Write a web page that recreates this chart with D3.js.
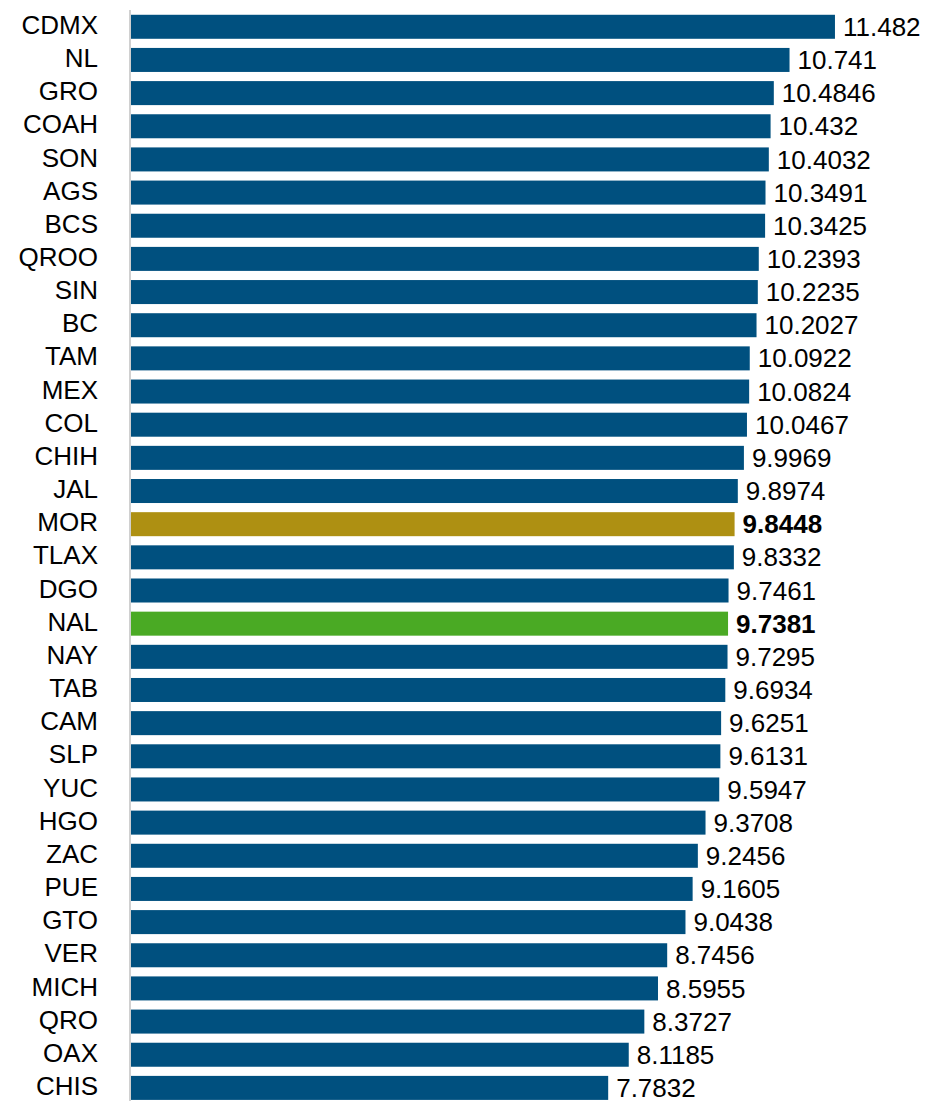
<!DOCTYPE html>
<html><head><meta charset="utf-8">
<script src="https://cdn.jsdelivr.net/npm/d3@7"></script>
<style>body{margin:0;background:#fff}svg{display:block}text{font-family:"Liberation Sans",Arial,sans-serif}</style>
</head><body>
<svg id="c" width="925" height="1101"></svg>
<script>
const categories = ["CDMX","NL","GRO","COAH","SON","AGS","BCS","QROO","SIN","BC","TAM","MEX","COL","CHIH","JAL","MOR","TLAX","DGO","NAL","NAY","TAB","CAM","SLP","YUC","HGO","ZAC","PUE","GTO","VER","MICH","QRO","OAX","CHIS"];
const values = [11.482,10.741,10.4846,10.432,10.4032,10.3491,10.3425,10.2393,10.2235,10.2027,10.0922,10.0824,10.0467,9.9969,9.8974,9.8448,9.8332,9.7461,9.7381,9.7295,9.6934,9.6251,9.6131,9.5947,9.3708,9.2456,9.1605,9.0438,8.7456,8.5955,8.3727,8.1185,7.7832];
const highlight = {"MOR":"#AE9012","NAL":"#4AAA24"};
const baseColor = "#00507F";

const data = categories.map((c,i)=>({cat:c, v:values[i]}));
const svg = d3.select("#c");
const x = d3.scaleLinear().domain([0,12]).range([131, 131+12*61.31]);
const y = d3.scaleBand().domain(categories).range([10.2, 10.2+33.16*33]).paddingInner(0.276).paddingOuter(0.138);

svg.append("line").attr("x1",130).attr("x2",130).attr("y1",10).attr("y2",1101)
  .attr("stroke","#d0d0d0").attr("stroke-width",2);

svg.selectAll("rect.bar").data(data).join("rect")
  .attr("x",x(0)).attr("y",d=>y(d.cat)).attr("width",d=>x(d.v)-x(0)).attr("height",y.bandwidth())
  .attr("fill",d=>highlight[d.cat]||baseColor);

svg.selectAll("text.cat").data(data).join("text")
  .attr("x",98).attr("y",d=>y(d.cat)+y.bandwidth()/2-2).attr("dy","0.35em")
  .attr("text-anchor","end").attr("font-size",26).attr("fill","#000").text(d=>d.cat);

svg.selectAll("text.val").data(data).join("text")
  .attr("x",d=>x(d.v)+8).attr("y",d=>y(d.cat)+y.bandwidth()/2).attr("dy","0.35em")
  .attr("font-size",26).attr("fill","#000")
  .attr("font-weight",d=>highlight[d.cat]?"bold":"normal").text(d=>String(d.v));
</script>
</body></html>
